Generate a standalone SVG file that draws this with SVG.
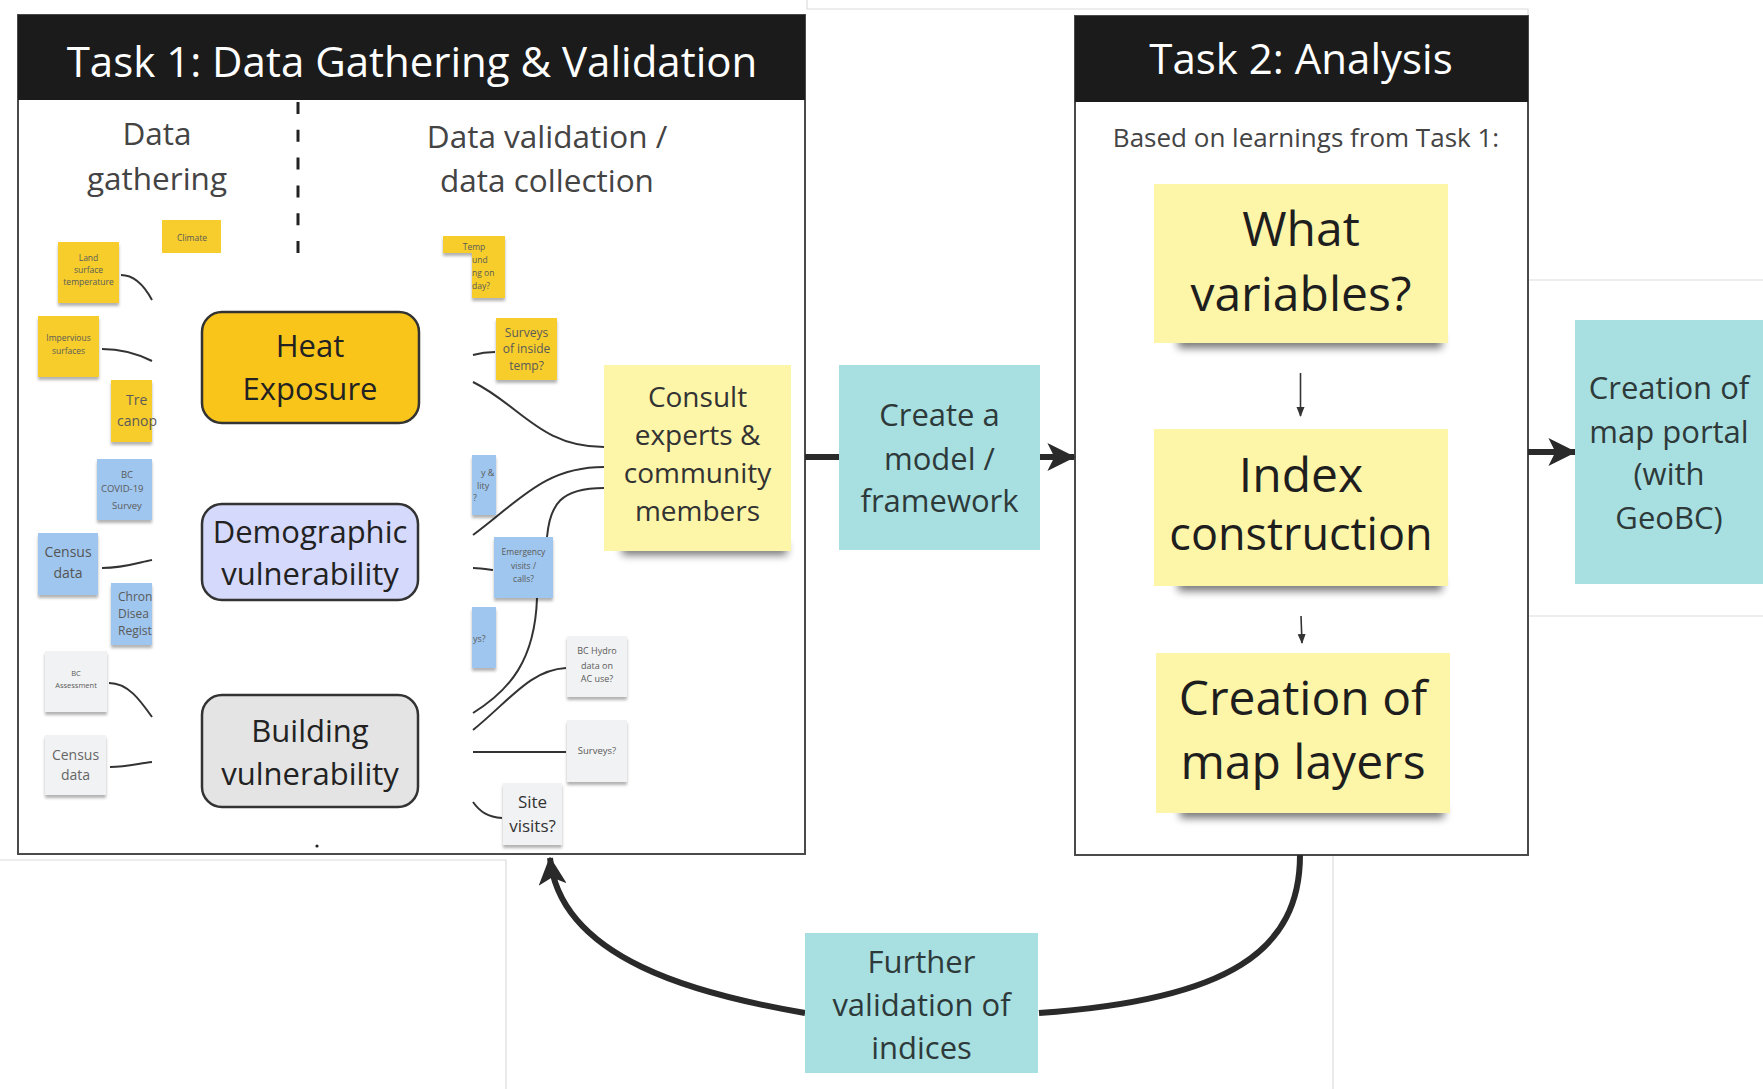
<svg xmlns="http://www.w3.org/2000/svg" width="1763" height="1089" viewBox="0 0 1763 1089">
<defs>
<style>
text{font-family:'Open Sans','Liberation Sans',sans-serif}
.title{font-size:42px;fill:#fff;text-anchor:middle}
.sub{font-size:31.5px;fill:#444;text-anchor:middle}
.cat{font-size:31px;fill:#222;text-anchor:middle}
.teal{fill:#a8dfe1}
.tt{font-size:31px;fill:#2e3a3a;text-anchor:middle}
.big{font-size:48px;fill:#1e1e1e;text-anchor:middle}
.ys{fill:#f6cd2c}
.bl{fill:#9fc6ee}
.gr{fill:#f1f2f3}
.lt{fill:#fdf5a8}
.tiny{font-size:8.5px;fill:#5a5a5a;text-anchor:middle}
.sm{font-size:12px;fill:#5a5a5a;text-anchor:middle}
.lk{fill:none;stroke:#333;stroke-width:2}
.thick{fill:none;stroke:#2a2a2a;stroke-width:6}
.frame{fill:#fff;stroke:#4a4a4a;stroke-width:2}
.edge{fill:none;stroke:#dcdcdc;stroke-width:1.2}
.sh{fill:#000;opacity:.55}
</style>
<filter id="blur" x="-20%" y="-100%" width="140%" height="300%"><feGaussianBlur stdDeviation="4"/></filter>
<filter id="ds" x="-20%" y="-20%" width="140%" height="160%"><feDropShadow dx="0" dy="3" stdDeviation="1.5" flood-color="#000" flood-opacity="0.3"/></filter>
<marker id="ah" viewBox="0 0 10 10" refX="9.5" refY="5" markerUnits="userSpaceOnUse" markerWidth="28" markerHeight="28" orient="auto">
<path d="M0,0 L10,5 L0,10 L2.5,5 z" fill="#2a2a2a"/>
</marker>
<marker id="sa" viewBox="0 0 10 10" refX="9" refY="5" markerUnits="userSpaceOnUse" markerWidth="10" markerHeight="10" orient="auto">
<path d="M0,1 L10,5 L0,9 z" fill="#333"/>
</marker>
</defs>
<rect width="1763" height="1089" fill="#fff"/>

<g id="background-edges">
<polyline class="edge" points="807,0 807,9 1528,9 1528,16"/>
<line class="edge" x1="1528" y1="280" x2="1763" y2="280"/>
<line class="edge" x1="1528" y1="616" x2="1763" y2="616"/>
<polyline class="edge" points="0,860 506,860 506,1089"/>
<line class="edge" x1="1333" y1="856" x2="1333" y2="1089"/>
</g>

<g id="task1">
<rect class="frame" x="18" y="15" width="787" height="839"/>
<rect x="18" y="15" width="787" height="85" fill="#1b1b1b"/>
<text class="title" x="412" y="77">Task 1: Data Gathering &amp; Validation</text>
<line x1="298" y1="102" x2="298" y2="253" stroke="#222" stroke-width="3" stroke-dasharray="12,15.8"/>
<text class="sub" x="157" y="145">Data</text>
<text class="sub" x="157" y="190">gathering</text>
<text class="sub" x="547" y="148">Data validation /</text>
<text class="sub" x="547" y="192">data collection</text>
<circle cx="317" cy="846" r="1.6" fill="#222"/>
</g>

<g id="task2">
<rect class="frame" x="1075" y="16" width="453" height="839"/>
<rect x="1075" y="16" width="453" height="86" fill="#1b1b1b"/>
<text class="title" x="1301" y="74">Task 2: Analysis</text>
<text x="1306" y="147" style="font-size:26px;fill:#444;text-anchor:middle">Based on learnings from Task 1:</text>
</g>

<g id="connectors">
<path class="lk" d="M121,275 C135,275 145,287 152,300"/>
<path class="lk" d="M102,349 C125,349 140,355 152,361"/>
<path class="lk" d="M102,568 C125,568 140,562 152,560"/>
<path class="lk" d="M109,683 C128,683 140,700 152,717"/>
<path class="lk" d="M110,767 C128,767 140,763 152,762"/>
<path class="lk" d="M473,355 C480,353 487,352 495,352"/>
<path class="lk" d="M473,382 C520,405 540,447 604,447"/>
<path class="lk" d="M473,535 C520,500 545,467 604,467"/>
<path class="lk" d="M547,537 C550,505 560,488 604,488"/>
<path class="lk" d="M473,568 C480,568 486,569 493,570"/>
<path class="lk" d="M537,598 C535,660 510,690 473,713"/>
<path class="lk" d="M566,668 C530,670 510,700 473,730"/>
<path class="lk" d="M473,752 L566,752"/>
<path class="lk" d="M473,802 C480,812 488,817 502,818"/>
<line class="thick" x1="805" y1="457" x2="839" y2="457"/>
<line class="thick" x1="1040" y1="457" x2="1074" y2="457" marker-end="url(#ah)"/>
<line class="thick" x1="1528" y1="452" x2="1575" y2="452" marker-end="url(#ah)"/>
<line x1="1300.5" y1="373" x2="1300.5" y2="416" stroke="#333" stroke-width="1.6" marker-end="url(#sa)"/>
<line x1="1301" y1="616" x2="1302" y2="643" stroke="#333" stroke-width="1.6" marker-end="url(#sa)"/>
<path class="thick" d="M1300,855 C1300,950 1230,1000 1039,1013"/>
<path class="thick" d="M805,1013 C700,995 560,960 550,858" marker-end="url(#ah)"/>
</g>

<g id="note-climate"><rect class="ys" x="162" y="220" width="59" height="33"/><text class="tiny" x="192" y="241">Climate</text></g>
<g id="note-land"><rect class="ys" x="58" y="242" width="61" height="61" filter="url(#ds)"/><text class="tiny" x="88.5" y="261">Land</text><text class="tiny" x="88.5" y="273">surface</text><text class="tiny" x="88.5" y="285">temperature</text></g>
<g id="note-impervious"><rect class="ys" x="38" y="316" width="61" height="61" filter="url(#ds)"/><text class="tiny" x="68.5" y="341">Impervious</text><text class="tiny" x="68.5" y="354">surfaces</text></g>
<g id="note-tree"><rect class="ys" x="111" y="380" width="41" height="62" filter="url(#ds)"/><text x="126" y="405" style="font-size:14px;fill:#5a5a5a">Tre</text><text x="117" y="426" style="font-size:14px;fill:#5a5a5a">canop</text></g>
<g id="note-covid"><rect class="bl" x="97" y="459" width="55" height="61" filter="url(#ds)"/><text class="tiny" x="127" y="478" style="font-size:9.5px">BC</text><text x="101" y="492" style="font-size:9.5px;fill:#5a5a5a">COVID-19</text><text class="tiny" x="127" y="509" style="font-size:9.5px">Survey</text></g>
<g id="note-census1"><rect class="bl" x="38" y="533" width="60" height="62" filter="url(#ds)"/><text x="68" y="557" style="font-size:14px;fill:#555;text-anchor:middle">Census</text><text x="68" y="578" style="font-size:14px;fill:#555;text-anchor:middle">data</text></g>
<g id="note-chronic"><rect class="bl" x="111" y="583" width="41" height="62" filter="url(#ds)"/><text x="118" y="601" style="font-size:12px;fill:#5a5a5a">Chron</text><text x="118" y="618" style="font-size:12px;fill:#5a5a5a">Disea</text><text x="118" y="635" style="font-size:12px;fill:#5a5a5a">Regist</text></g>
<g id="note-assessment"><rect class="gr" x="45" y="651" width="62" height="61" filter="url(#ds)"/><text class="tiny" x="76" y="676" style="font-size:7.5px">BC</text><text class="tiny" x="76" y="688" style="font-size:7.5px">Assessment</text></g>
<g id="note-census2"><rect class="gr" x="45" y="735" width="61" height="60" filter="url(#ds)"/><text x="75.5" y="760" style="font-size:14px;fill:#666;text-anchor:middle">Census</text><text x="75.5" y="780" style="font-size:14px;fill:#666;text-anchor:middle">data</text></g>

<g id="note-temp"><path class="ys" d="M443,236 H505 V298 H472 V253 H443 Z" filter="url(#ds)"/><text class="tiny" x="474" y="250">Temp</text><text x="472" y="263" style="font-size:8.5px;fill:#5a5a5a">und</text><text x="472" y="276" style="font-size:8.5px;fill:#5a5a5a">ng on</text><text x="472" y="289" style="font-size:8.5px;fill:#5a5a5a">day?</text></g>
<g id="note-surveys-temp"><rect class="ys" x="496" y="318" width="61" height="62" filter="url(#ds)"/><text class="sm" x="526.5" y="337">Surveys</text><text class="sm" x="526.5" y="353">of inside</text><text class="sm" x="526.5" y="370">temp?</text></g>
<g id="note-blue-a"><rect class="bl" x="472" y="455" width="24" height="60" filter="url(#ds)"/><text x="481" y="476" style="font-size:9px;fill:#5a5a5a">y &amp;</text><text x="477" y="489" style="font-size:9px;fill:#5a5a5a">lity</text><text x="473" y="501" style="font-size:9px;fill:#5a5a5a">?</text></g>
<g id="note-emergency"><rect class="bl" x="494" y="537" width="59" height="61" filter="url(#ds)"/><text class="tiny" x="523.5" y="555">Emergency</text><text class="tiny" x="523.5" y="569">visits /</text><text class="tiny" x="523.5" y="582">calls?</text></g>
<g id="note-blue-b"><rect class="bl" x="472" y="607" width="24" height="61" filter="url(#ds)"/><text x="473" y="642" style="font-size:9px;fill:#5a5a5a">ys?</text></g>
<g id="note-hydro"><rect class="gr" x="567" y="636" width="60" height="61" filter="url(#ds)"/><text class="tiny" x="597" y="654" style="font-size:9px">BC Hydro</text><text class="tiny" x="597" y="669" style="font-size:9px">data on</text><text class="tiny" x="597" y="682" style="font-size:9px">AC use?</text></g>
<g id="note-surveys"><rect class="gr" x="567" y="720" width="60" height="62" filter="url(#ds)"/><text class="tiny" x="597" y="754" style="font-size:9.5px">Surveys?</text></g>
<g id="note-site"><rect class="gr" x="503" y="783" width="59" height="62" filter="url(#ds)"/><text x="532.5" y="808" style="font-size:17px;fill:#333;text-anchor:middle">Site</text><text x="532.5" y="832" style="font-size:17px;fill:#333;text-anchor:middle">visits?</text></g>

<g id="heat-exposure"><rect x="202" y="312" width="217" height="111" rx="20" fill="#f9c51b" stroke="#333" stroke-width="2.5"/><text class="cat" x="310" y="357">Heat</text><text class="cat" x="310" y="400">Exposure</text></g>
<g id="demographic-vulnerability"><rect x="202" y="504" width="216" height="96" rx="20" fill="#d5d9fb" stroke="#333" stroke-width="2.5"/><text class="cat" x="310" y="543">Demographic</text><text class="cat" x="310" y="585">vulnerability</text></g>
<g id="building-vulnerability"><rect x="202" y="695" width="216" height="112" rx="20" fill="#e4e4e4" stroke="#333" stroke-width="2.5"/><text class="cat" x="310" y="742">Building</text><text class="cat" x="310" y="785">vulnerability</text></g>

<g id="consult"><rect class="sh" x="622" y="543" width="165" height="12" filter="url(#blur)"/><rect class="lt" x="604" y="365" width="187" height="186"/><text x="697.5" y="407" style="font-size:28px;fill:#333;text-anchor:middle">Consult</text><text x="697.5" y="445" style="font-size:28px;fill:#333;text-anchor:middle">experts &amp;</text><text x="697.5" y="483" style="font-size:28px;fill:#333;text-anchor:middle">community</text><text x="697.5" y="521" style="font-size:28px;fill:#333;text-anchor:middle">members</text></g>

<g id="create-model"><rect class="teal" x="839" y="365" width="201" height="185"/><text class="tt" x="939.5" y="426">Create a</text><text class="tt" x="939.5" y="470">model /</text><text class="tt" x="939.5" y="512">framework</text></g>

<g id="what-variables"><rect class="sh" x="1178" y="335" width="264" height="13" filter="url(#blur)"/><rect class="lt" x="1154" y="184" width="294" height="159"/><text class="big" x="1301" y="246">What</text><text class="big" x="1301" y="311">variables?</text></g>
<g id="index-construction"><rect class="sh" x="1178" y="578" width="264" height="13" filter="url(#blur)"/><rect class="lt" x="1154" y="429" width="294" height="157"/><text class="big" x="1301" y="492">Index</text><text class="big" x="1301" y="550" style="font-size:45px">construction</text></g>
<g id="creation-map-layers"><rect class="sh" x="1180" y="805" width="264" height="13" filter="url(#blur)"/><rect class="lt" x="1156" y="653" width="294" height="160"/><text class="big" x="1303" y="715">Creation of</text><text class="big" x="1303" y="779">map layers</text></g>

<g id="map-portal"><rect class="teal" x="1575" y="320" width="188" height="264"/><text class="tt" x="1669" y="399">Creation of</text><text class="tt" x="1669" y="443">map portal</text><text class="tt" x="1669" y="485">(with</text><text class="tt" x="1669" y="529">GeoBC)</text></g>

<g id="further-validation"><rect class="teal" x="805" y="933" width="233" height="140"/><text class="tt" x="921.5" y="973">Further</text><text class="tt" x="921.5" y="1016">validation of</text><text class="tt" x="921.5" y="1059">indices</text></g>
</svg>
